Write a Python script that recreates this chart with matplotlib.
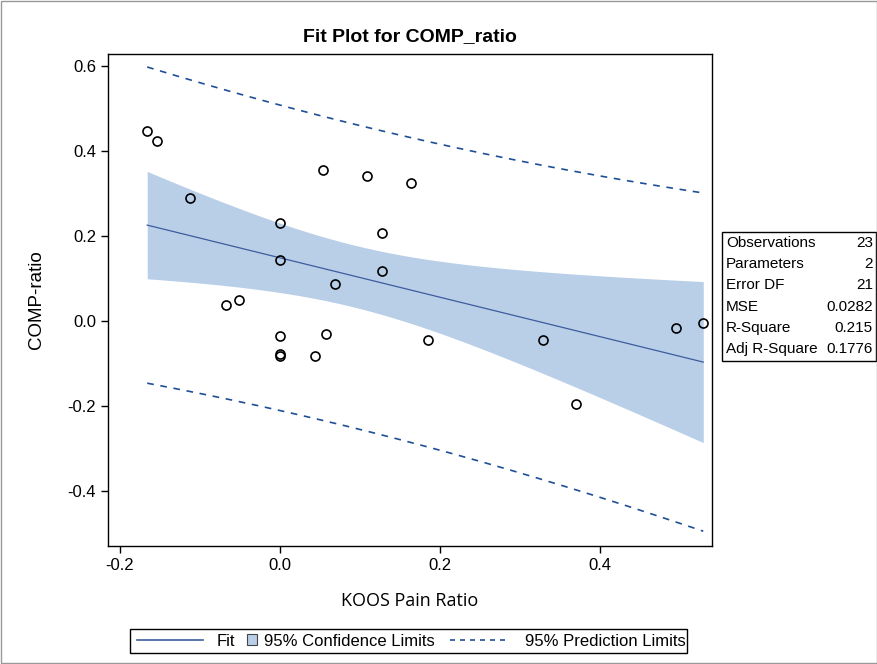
import numpy as np
import matplotlib
matplotlib.use("Agg")
import matplotlib.pyplot as plt
from matplotlib.lines import Line2D
from matplotlib.patches import Patch, Rectangle

# data
koos = [-0.166, -0.154, -0.112, -0.067, -0.051, 0.0, 0.0, 0.0, 0.0, 0.0,
        0.054, 0.057, 0.044, 0.069, 0.109, 0.128, 0.128, 0.164, 0.185,
        0.329, 0.370, 0.495, 0.529]
comp = [0.447, 0.424, 0.289, 0.038, 0.049, 0.231, 0.144, -0.035, -0.078, -0.082,
        0.355, -0.031, -0.082, 0.087, 0.341, 0.207, 0.118, 0.325, -0.045,
        -0.045, -0.195, -0.016, -0.005]
stat_names = ["Observations", "Parameters", "Error DF", "MSE", "R-Square", "Adj R-Square"]
stat_values = ["23", "2", "21", "0.0282", "0.215", "0.1776"]
x_ticks = [-0.2, 0.0, 0.2, 0.4]
y_ticks = [-0.4, -0.2, 0.0, 0.2, 0.4, 0.6]

plt.rcParams['font.family'] = ['Liberation Sans', 'DejaVu Sans']

fill_col = '#b9cfe8'
fit_col = '#3c5c9e'
pred_col = '#1f4f96'

# ordinary least squares + 95% limits
x = np.array(koos)
y = np.array(comp)
n = len(x)
b1, b0 = np.polyfit(x, y, 1)
resid = y - (b0 + b1 * x)
mse = np.sum(resid ** 2) / (n - 2)
tval = 2.0796  # t(0.975, 21)
sxx = np.sum((x - x.mean()) ** 2)
xs = np.linspace(x.min(), x.max(), 200)
yfit = b0 + b1 * xs
se_mean = np.sqrt(mse * (1.0 / n + (xs - x.mean()) ** 2 / sxx))
se_pred = np.sqrt(mse * (1.0 + 1.0 / n + (xs - x.mean()) ** 2 / sxx))

fig = plt.figure(figsize=(8.78, 6.64), dpi=100)
ax = fig.add_axes([0.123, 0.1777, 0.688, 0.741])

ax.fill_between(xs, yfit - tval * se_mean, yfit + tval * se_mean,
                color=fill_col, lw=0, zorder=1)
ax.plot(xs, yfit, color=fit_col, lw=0.9, zorder=2)
ax.plot(xs, yfit + tval * se_pred, color=pred_col, lw=1.2, ls=(0, (4, 4)), zorder=2)
ax.plot(xs, yfit - tval * se_pred, color=pred_col, lw=1.2, ls=(0, (4, 4)), zorder=2)
ax.plot(x, y, 'o', mfc='none', mec='black', ms=6.5, mew=1.2, zorder=3)

ax.set_xlim(-0.215, 0.54)
ax.set_ylim(-0.529, 0.628)
ax.set_xticks(x_ticks)
ax.set_yticks(y_ticks)
ax.set_xticklabels(["%.1f" % v for v in x_ticks])
ax.set_yticklabels(["%.1f" % v for v in y_ticks])
ax.tick_params(labelsize=12, length=5, width=1, direction='out')
for s in ax.spines.values():
    s.set_linewidth(1)
ax.set_xlabel("KOOS Pain Ratio", fontsize=13, labelpad=14,
              family=['Open Sans', 'DejaVu Sans'])
ax.set_ylabel("COMP-ratio", fontsize=13.5, labelpad=16)
ax.set_title("Fit Plot for COMP_ratio", fontsize=14, fontweight='bold', pad=9)

# fit statistics box
fig.patches.append(Rectangle((722 / 878, 1 - 361 / 664), 154 / 878, 129 / 664,
                             transform=fig.transFigure, fill=False,
                             edgecolor='black', lw=1))
for i in range(len(stat_names)):
    yy = 1 - (243 + 21.2 * i) / 664
    fig.text(726 / 878, yy, stat_names[i], fontsize=11, va='center', ha='left')
    fig.text(873 / 878, yy, stat_values[i], fontsize=11, va='center', ha='right')

# legend: one entry per legend so each handle can have its own length
leg_y = 1 - 641 / 664
entries = [(Line2D([], [], color=fit_col, lw=1.2), "Fit", 137, 3.96, 0.84),
           (Patch(facecolor=fill_col, edgecolor='#444444', lw=0.8),
            "95% Confidence Limits", 247, 0.6, 0.42),
           (Line2D([], [], color=pred_col, lw=1.2, ls=(0, (3, 3))),
            "95% Prediction Limits", 450, 3.6, 0.9)]
for h, lab, xpix, hl, tp in entries:
    fig.legend([h], [lab], loc='center left', bbox_to_anchor=(xpix / 878, leg_y),
               fontsize=12, frameon=False, handlelength=hl, handleheight=0.6,
               handletextpad=tp, borderpad=0, borderaxespad=0)
fig.patches.append(Rectangle((130 / 878, 1 - 653 / 664), 557 / 878, 24 / 664,
                             transform=fig.transFigure, fill=False,
                             edgecolor='black', lw=1))

# outer border
fig.patches.append(Rectangle((0.001, 0.001), 0.998, 0.998, transform=fig.transFigure,
                             fill=False, edgecolor='#999999', lw=1))

fig.savefig("out.png", dpi=100)
